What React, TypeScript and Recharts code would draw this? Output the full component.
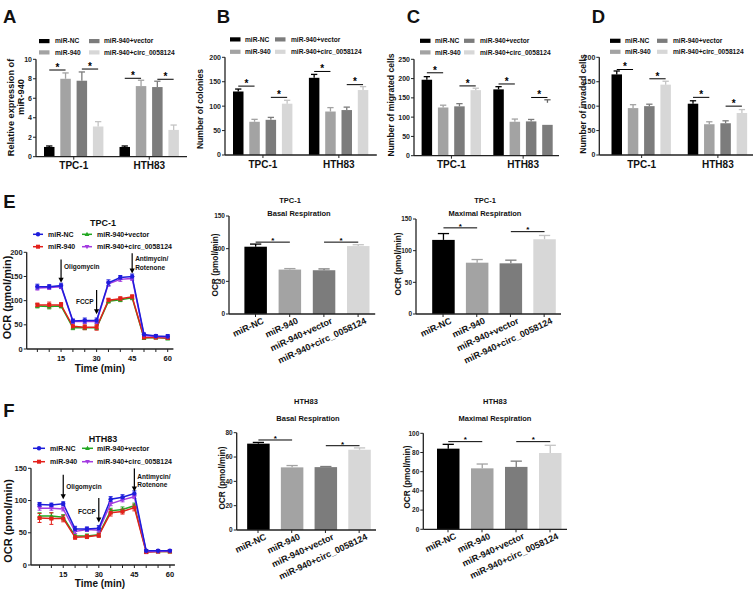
import React from "react";
import { BarChart, Bar, XAxis, YAxis, ComposedChart, Line, ErrorBar, Scatter } from "recharts";

const FONT = "'Liberation Sans', Arial, Helvetica, sans-serif";

// ---------- categories ----------
const groups = ["miR-NC", "miR-940", "miR-940+vector", "miR-940+circ_0058124"];
const cells = ["TPC-1", "HTH83"];

// ---------- A: relative expression of miR-940 ----------
const relExprMean = [[1.0, 8.0, 7.8, 3.1], [1.0, 7.25, 7.15, 2.75]];
const relExprErr = [[0.1, 0.6, 0.9, 0.5], [0.1, 0.6, 0.6, 0.5]];
const relExprSig = [[8.9, 9.0], [8.05, 7.95]];

// ---------- B: number of colonies ----------
const colonyMean = [[130, 68, 72, 105], [158, 89, 92, 133]];
const colonyErr = [[5, 5, 5, 7], [7, 8, 6, 7]];
const colonySig = [[141, 118], [171, 144]];

// ---------- C: number of migrated cells ----------
const migratedMean = [[197, 125, 128, 170], [172, 88, 89, 80]];
const migratedErr = [[8, 6, 7, 5], [7, 7, 5, 0]];
const migratedSig = [[215, 181], [186, 151]];
const migratedStrayCap = [null, 145];

// ---------- D: number of invaded cells ----------
const invadedMean = [[165, 96, 100, 144], [105, 63, 65, 86]];
const invadedErr = [[7, 7, 4, 7], [6, 5, 5, 7]];
const invadedSig = [[175, 156], [118, 100]];

// ---------- E / F: OCR time course ----------
const times = [5, 10, 15, 20, 25, 30, 35, 40, 45, 50, 55, 60];
const tpcNC = [129, 129, 131, 58, 59, 59, 137, 148, 150, 30, 27, 26];
const tpcNCErr = [5, 4, 5, 4, 5, 5, 6, 4, 5, 3, 3, 4];
const tpc940 = [91, 91, 91, 47, 45, 45, 101, 104, 108, 24, 24, 23];
const tpc940Err = [4, 6, 5, 5, 5, 6, 4, 4, 4, 3, 3, 3];
const tpcVec = [89, 88, 89, 44, 44, 44, 99, 102, 106, 23, 24, 22];
const tpcVecErr = [4, 5, 4, 4, 4, 4, 4, 4, 4, 3, 3, 3];
const tpcCirc = [126, 127, 129, 57, 57, 57, 135, 144, 146, 28, 26, 25];
const tpcCircErr = [4, 4, 4, 4, 4, 4, 5, 4, 4, 3, 3, 3];

const hthNC = [94, 93, 95, 56, 56, 57, 102, 105, 111, 22, 22, 22];
const hthNCErr = [3, 3, 3, 4, 3, 4, 4, 4, 4, 2, 2, 2];
const hth940 = [73, 72, 72, 43, 44, 46, 81, 83, 89, 20, 21, 21];
const hth940Err = [7, 9, 5, 3, 3, 3, 5, 4, 5, 2, 2, 2];
const hthVec = [76, 76, 74, 45, 45, 47, 84, 86, 92, 21, 21, 21];
const hthVecErr = [5, 5, 4, 3, 3, 3, 4, 4, 4, 2, 2, 2];
const hthCirc = [88, 88, 87, 52, 55, 54, 95, 101, 106, 21, 21, 22];
const hthCircErr = [3, 3, 3, 3, 3, 3, 3, 3, 3, 2, 2, 2];

const tpcInjections = [
  { t: 15, tip: 137, top: 185, text: ["Oligomycin"], textAt: [170], side: "right" },
  { t: 30, tip: 72, top: 122, text: ["FCCP"], textAt: [98], side: "left" },
  { t: 45, tip: 156, top: 198, text: ["Antimycin/", "Rotenone"], textAt: [186, 168], side: "right" },
];
const hthInjections = [
  { t: 15, tip: 102, top: 140, text: ["Oligomycin"], textAt: [122], side: "right" },
  { t: 30, tip: 66, top: 104, text: ["FCCP"], textAt: [83], side: "left" },
  { t: 45, tip: 114, top: 150, text: ["Antimycin/", "Rotenone"], textAt: [137, 125], side: "right" },
];

// ---------- Basal / Maximal respiration ----------
const tpcBasalMean = [103, 68, 67, 104];
const tpcBasalErr = [4, 1.5, 2, 2];
const tpcBasalSig = [110, 110];
const tpcMaxMean = [117, 81, 80, 118];
const tpcMaxErr = [10, 5, 5, 6];
const tpcMaxSig = [136, 130];
const hthBasalMean = [71, 51.5, 51.7, 66];
const hthBasalErr = [1, 1.5, 0.5, 1.5];
const hthBasalSig = [74, 69.3];
const hthMaxMean = [84, 63.5, 65, 79.5];
const hthMaxErr = [4.5, 4.5, 6, 8];
const hthMaxSig = [91.3, 91.3];

// ---------- styles ----------
const barFills = ["#000000", "#a3a3a3", "#7c7c7c", "#d7d7d7"];
const lineColors = ["#1d1ddb", "#e3201b", "#22a722", "#a33be0"];
const AX = "#222";

type Plot = { l: number; t: number; r: number; b: number };

function layout(plot: Plot, box: number[], xh: number) {
  const [x0, y0, x1, y1] = box;
  return {
    style: { position: "absolute" as const, left: x0, top: y0 },
    width: x1 - x0,
    height: y1 - y0,
    margin: { top: plot.t - y0, right: x1 - plot.r, bottom: y1 - plot.b - xh, left: 0 },
    yw: plot.l - x0,
  };
}

const yTickStyle = (size: number) => ({ fontSize: size, fontWeight: "bold", fill: AX, fontFamily: FONT });

function Sig({ x1, x2, y, size }: any) {
  return (
    <g>
      <line x1={x1} x2={x2} y1={y} y2={y} stroke="#000" strokeWidth={1} />
      <text x={(x1 + x2) / 2} y={y + 0.8} textAnchor="middle" fontSize={size} fontWeight="bold" fontFamily={FONT} fill="#000">*</text>
    </g>
  );
}

function GroupPanel({ plot, box, domain, ticks, means, errs, sigs, padL, override, stray }: any) {
  const L = layout(plot, box, 16);
  const BAR = 10.5;
  const GAP = 5.8;
  const data = cells.map((c, i) => {
    const row: any = { cell: c, sigA: sigs[i][0], sigB: sigs[i][1], stray: stray ? stray[i] : null };
    for (let k = 0; k < 4; k++) {
      row["s" + k] = means[i][k];
      row["e" + k] = errs[i][k];
    }
    return row;
  });
  const shape = (k: number) => (p: any) => {
    const { x, y, width, height, payload } = p;
    const v = payload["s" + k];
    const ppu = v > 0 ? height / v : 0;
    const base = y + height;
    const cx = x + width / 2;
    let fill = barFills[k];
    if (override && override.cell === payload.cell && override.series === k) fill = override.fill;
    const e = payload["e" + k];
    const capC = k === 0 ? "#000" : fill === "#d7d7d7" ? "#c4c4c4" : fill;
    const cw = width * 0.3;
    return (
      <g>
        <rect x={x} y={y} width={width} height={height} fill={fill} />
        {e > 0 && (
          <g>
            <line x1={cx} x2={cx} y1={y} y2={y - e * ppu} stroke={capC} strokeWidth={1.3} />
            <line x1={cx - cw} x2={cx + cw} y1={y - e * ppu} y2={y - e * ppu} stroke={capC} strokeWidth={1.3} />
          </g>
        )}
        {k === 3 && payload.stray != null && (
          <g>
            <line x1={cx} x2={cx} y1={base - payload.stray * ppu} y2={base - payload.stray * ppu + 3} stroke="#666" strokeWidth={1.3} />
            <line x1={cx - cw} x2={cx + cw} y1={base - payload.stray * ppu} y2={base - payload.stray * ppu} stroke="#666" strokeWidth={1.3} />
          </g>
        )}
        {(k === 0 || k === 2) && (
          <Sig x1={cx} x2={cx + width + GAP} y={base - (k === 0 ? payload.sigA : payload.sigB) * ppu} size={10} />
        )}
      </g>
    );
  };
  const CatTick = (p: any) => (
    <text x={p.x} y={p.y + 7.5} textAnchor="middle" fontSize={10} fontWeight="bold" fontFamily={FONT} fill="#111">
      {p.payload.value}
    </text>
  );
  return (
    <div style={L.style}>
      <BarChart width={L.width} height={L.height} data={data} margin={L.margin} barGap={GAP}>
        <XAxis dataKey="cell" height={16} tick={CatTick} tickSize={3} tickMargin={2} interval={0}
          padding={{ left: padL, right: 0 }}
          axisLine={{ stroke: AX, strokeWidth: 1.3 }} tickLine={{ stroke: AX, strokeWidth: 1 }} />
        <YAxis width={L.yw} domain={domain} ticks={ticks} interval={0} tickSize={3} tickMargin={1}
          tick={yTickStyle(7)} axisLine={{ stroke: AX, strokeWidth: 1.3 }} tickLine={{ stroke: AX, strokeWidth: 1 }} />
        {[0, 1, 2, 3].map((k) => (
          <Bar key={k} dataKey={"s" + k} fill={barFills[k]} barSize={BAR} isAnimationActive={false} shape={shape(k)} />
        ))}
      </BarChart>
    </div>
  );
}

function RespPanel({ plot, box, domain, ticks, mean, err, sig, padL }: any) {
  const L = layout(plot, box, 62);
  const band = (plot.r - plot.l - padL) / 4;
  const data = groups.map((g, i) => ({ g, v: mean[i], e: err[i] }));
  const shape = (p: any) => {
    const { x, y, width, height, payload } = p;
    const idx = groups.indexOf(payload.g);
    const ppu = payload.v > 0 ? height / payload.v : 0;
    const base = y + height;
    const cx = x + width / 2;
    const fill = barFills[idx];
    const capC = idx === 0 ? "#000" : idx === 3 ? "#c4c4c4" : fill;
    const cw = width * 0.25;
    const ty = y - payload.e * ppu;
    return (
      <g>
        <rect x={x} y={y} width={width} height={height} fill={fill} />
        <line x1={cx} x2={cx} y1={y} y2={ty} stroke={capC} strokeWidth={1.3} />
        <line x1={cx - cw} x2={cx + cw} y1={ty} y2={ty} stroke={capC} strokeWidth={1.3} />
        {(idx === 0 || idx === 2) && (
          <Sig x1={cx} x2={cx + band} y={base - sig[idx / 2] * ppu} size={8} />
        )}
      </g>
    );
  };
  const RotTick = (p: any) => (
    <text transform={`translate(${p.x + 9},${p.y + 4}) rotate(-25)`} textAnchor="end" fontSize={9}
      fontWeight="bold" fontFamily={FONT} fill="#111">
      {p.payload.value}
    </text>
  );
  return (
    <div style={L.style}>
      <BarChart width={L.width} height={L.height} data={data} margin={L.margin}>
        <XAxis dataKey="g" height={62} tick={RotTick} tickSize={3} tickMargin={2} interval={0}
          padding={{ left: padL, right: 0 }}
          axisLine={{ stroke: AX, strokeWidth: 1.3 }} tickLine={{ stroke: AX, strokeWidth: 1 }} />
        <YAxis width={L.yw} domain={domain} ticks={ticks} interval={0} tickSize={3} tickMargin={1}
          tick={yTickStyle(6.5)} axisLine={{ stroke: AX, strokeWidth: 1.3 }} tickLine={{ stroke: AX, strokeWidth: 1 }} />
        <Bar dataKey="v" barSize={22.5} isAnimationActive={false} shape={shape} />
      </BarChart>
    </div>
  );
}

const dotFn = (k: number) => (p: any) => {
  const { cx, cy } = p;
  const c = lineColors[k];
  if (cx == null || cy == null) return <g />;
  if (k === 0) return <circle cx={cx} cy={cy} r={2.2} fill={c} />;
  if (k === 1) return <rect x={cx - 2} y={cy - 2} width={4} height={4} fill={c} />;
  if (k === 2) return <path d={`M${cx},${cy - 2.5}L${cx + 2.4},${cy + 1.8}L${cx - 2.4},${cy + 1.8}Z`} fill={c} />;
  return <path d={`M${cx},${cy + 2.5}L${cx + 2.4},${cy - 1.8}L${cx - 2.4},${cy - 1.8}Z`} fill={c} />;
};

function OcrPanel({ plot, box, xDomain, yDomain, yTicks, nc, ncE, m940, m940E, vec, vecE, circ, circE, injections }: any) {
  const L = layout(plot, box, 14);
  const rows = times.map((t, i) => ({
    t, nc: nc[i], ncE: ncE[i], m940: m940[i], m940E: m940E[i], vec: vec[i], vecE: vecE[i], circ: circ[i], circE: circE[i],
  }));
  const ppu = (plot.b - plot.t) / (yDomain[1] - yDomain[0]);
  const arrow = (p: any) => {
    const { cx, cy, payload } = p;
    if (cx == null) return <g />;
    const topY = cy - (payload.top - payload.tip) * ppu;
    return (
      <g>
        <line x1={cx} x2={cx} y1={topY} y2={cy - 4} stroke="#000" strokeWidth={1.2} />
        <path d={`M${cx - 2.6},${cy - 5}L${cx + 2.6},${cy - 5}L${cx},${cy}Z`} fill="#000" />
        {payload.text.map((s: string, j: number) => (
          <text key={j} x={payload.side === "right" ? cx + 3 : cx - 3}
            y={cy - (payload.textAt[j] - payload.tip) * ppu + 2.3}
            textAnchor={payload.side === "right" ? "start" : "end"} fontSize={6.5} fontWeight="bold"
            fontFamily={FONT} fill="#111">{s}</text>
        ))}
      </g>
    );
  };
  const TimeTick = (p: any) =>
    p.payload.value % 15 === 0 ? (
      <text x={p.x} y={p.y + 7} textAnchor="middle" fontSize={7.5} fontWeight="bold" fontFamily={FONT} fill="#111">
        {p.payload.value}
      </text>
    ) : (
      <g />
    );
  const specs = [
    { key: "vec", k: 2 },
    { key: "m940", k: 1 },
    { key: "circ", k: 3 },
    { key: "nc", k: 0 },
  ];
  return (
    <div style={L.style}>
      <ComposedChart width={L.width} height={L.height} data={rows} margin={L.margin}>
        <XAxis type="number" dataKey="t" domain={xDomain} ticks={times} allowDataOverflow height={14} interval={0}
          tick={TimeTick} tickSize={3} tickMargin={2}
          axisLine={{ stroke: AX, strokeWidth: 1.3 }} tickLine={{ stroke: AX, strokeWidth: 1 }} />
        <YAxis width={L.yw} domain={yDomain} ticks={yTicks} interval={0} tickSize={3} tickMargin={1} allowDataOverflow
          tick={yTickStyle(7.5)} axisLine={{ stroke: AX, strokeWidth: 1.3 }} tickLine={{ stroke: AX, strokeWidth: 1 }} />
        {specs.map((s) => (
          <Line key={s.key} type="linear" dataKey={s.key} stroke={lineColors[s.k]} strokeWidth={1.5}
            dot={dotFn(s.k)} activeDot={false} isAnimationActive={false}>
            <ErrorBar dataKey={s.key + "E"} width={2} stroke={lineColors[s.k]} strokeWidth={1} direction="y" />
          </Line>
        ))}
        <Scatter data={injections} dataKey="tip" shape={arrow} isAnimationActive={false} />
      </ComposedChart>
    </div>
  );
}

// ---------- overlay text helpers ----------
function T({ x, y, size, anchor = "start", rot, children }: any) {
  return (
    <text x={x} y={y} fontSize={size} fontWeight="bold" fontFamily={FONT} textAnchor={anchor} fill="#111"
      transform={rot ? `rotate(${rot} ${x} ${y})` : undefined}>
      {children}
    </text>
  );
}

function BarLegend({ rows, cols }: any) {
  return (
    <g>
      {groups.map((g, i) => {
        const c = cols[Math.floor(i / 2)];
        const ry = rows[i % 2];
        return (
          <g key={g}>
            <rect x={c[0]} y={ry - 2} width={10.5} height={4.2} fill={barFills[i]} />
            <T x={c[1]} y={ry + 2.4} size={6.6}>{g}</T>
          </g>
        );
      })}
    </g>
  );
}

function LineLegend({ rows, cols }: any) {
  return (
    <g>
      {groups.map((g, i) => {
        const c = cols[Math.floor(i / 2)];
        const ry = rows[i % 2];
        const mid = (c[0] + c[1]) / 2;
        return (
          <g key={g}>
            <line x1={c[0]} x2={c[1]} y1={ry} y2={ry} stroke={lineColors[i]} strokeWidth={1.5} />
            {dotFn(i)({ cx: mid, cy: ry })}
            <T x={c[2]} y={ry + 2.5} size={7}>{g}</T>
          </g>
        );
      })}
    </g>
  );
}

export default function App() {
  return (
    <div style={{ position: "absolute", left: 0, top: 0, width: 753, height: 596, overflow: "hidden", background: "#fff" }}>
      <GroupPanel plot={{ l: 36, t: 59.3, r: 187, b: 156.7 }} box={[0, 48, 191, 176]} domain={[0, 10]} ticks={[0, 2, 4, 6, 8, 10]}
        means={relExprMean} errs={relExprErr} sigs={relExprSig} padL={0} />
      <GroupPanel plot={{ l: 225, t: 57.3, r: 376.8, b: 155 }} box={[195, 46, 380, 176]} domain={[0, 200]} ticks={[0, 50, 100, 150, 200]}
        means={colonyMean} errs={colonyErr} sigs={colonySig} padL={0} />
      <GroupPanel plot={{ l: 414, t: 59.3, r: 559, b: 155.7 }} box={[385, 48, 563, 176]} domain={[0, 250]} ticks={[0, 50, 100, 150, 200, 250]}
        means={migratedMean} errs={migratedErr} sigs={migratedSig} padL={1.6} stray={migratedStrayCap}
        override={{ cell: "HTH83", series: 3, fill: barFills[2] }} />
      <GroupPanel plot={{ l: 599.3, t: 57.3, r: 756, b: 155 }} box={[570, 46, 760, 176]} domain={[0, 200]} ticks={[0, 50, 100, 150, 200]}
        means={invadedMean} errs={invadedErr} sigs={invadedSig} padL={4.2} />

      <OcrPanel plot={{ l: 26.7, t: 252.3, r: 173.4, b: 349 }} box={[0, 240, 180, 366]} xDomain={[0.5, 62.4]}
        yDomain={[0, 200]} yTicks={[0, 50, 100, 150, 200]}
        nc={tpcNC} ncE={tpcNCErr} m940={tpc940} m940E={tpc940Err} vec={tpcVec} vecE={tpcVecErr} circ={tpcCirc} circE={tpcCircErr}
        injections={tpcInjections} />
      <OcrPanel plot={{ l: 31, t: 468.3, r: 174.9, b: 565 }} box={[0, 456, 180, 582]} xDomain={[1.4, 62.1]}
        yDomain={[0, 150]} yTicks={[0, 50, 100, 150]}
        nc={hthNC} ncE={hthNCErr} m940={hth940} m940E={hth940Err} vec={hthVec} vecE={hthVecErr} circ={hthCirc} circE={hthCircErr}
        injections={hthInjections} />

      <RespPanel plot={{ l: 229, t: 216, r: 375.2, b: 314 }} box={[205, 205, 380, 380]} domain={[0, 150]} ticks={[0, 50, 100, 150]}
        mean={tpcBasalMean} err={tpcBasalErr} sig={tpcBasalSig} padL={9.4} />
      <RespPanel plot={{ l: 416, t: 219, r: 561, b: 314 }} box={[392, 205, 565, 380]} domain={[0, 150]} ticks={[0, 50, 100, 150]}
        mean={tpcMaxMean} err={tpcMaxErr} sig={tpcMaxSig} padL={10.2} />
      <RespPanel plot={{ l: 236.7, t: 432.7, r: 376, b: 530 }} box={[212, 420, 380, 596]} domain={[0, 80]} ticks={[0, 20, 40, 60, 80]}
        mean={hthBasalMean} err={hthBasalErr} sig={hthBasalSig} padL={4.45} />
      <RespPanel plot={{ l: 423.3, t: 433.3, r: 567, b: 529.3 }} box={[400, 420, 570, 596]} domain={[0, 100]} ticks={[0, 20, 40, 60, 80, 100]}
        mean={hthMaxMean} err={hthMaxErr} sig={hthMaxSig} padL={7.7} />

      <svg width={753} height={596} style={{ position: "absolute", left: 0, top: 0, pointerEvents: "none" }}>
        {/* panel letters */}
        <T x={3} y={22.7} size={18.5}>A</T>
        <T x={216.7} y={23.3} size={18.5}>B</T>
        <T x={406.7} y={23} size={18.5}>C</T>
        <T x={591.7} y={23} size={18.5}>D</T>
        <T x={3.3} y={208.3} size={18.5}>E</T>
        <T x={3.3} y={416.7} size={18.5}>F</T>

        {/* top-row legends */}
        <BarLegend rows={[41, 52.3]} cols={[[39, 55], [89, 104]]} />
        <BarLegend rows={[39.3, 51.7]} cols={[[230, 245], [275, 291]]} />
        <BarLegend rows={[40.7, 52.3]} cols={[[420, 435], [464, 480]]} />
        <BarLegend rows={[40.7, 51.7]} cols={[[610, 625], [657, 673]]} />

        {/* top-row y labels */}
        <T x={14.3} y={107.5} size={9.2} anchor="middle" rot={-90}>Relative expression of</T>
        <T x={23.8} y={97} size={9.2} anchor="middle" rot={-90}>miR-940</T>
        <T x={203} y={109} size={8.6} anchor="middle" rot={-90}>Number of colonies</T>
        <T x={393.8} y={105} size={8.6} anchor="middle" rot={-90}>Number of migrated cells</T>
        <T x={586} y={104} size={8.6} anchor="middle" rot={-90}>Number of invaded cells</T>

        {/* E line chart */}
        <T x={103} y={226} size={9} anchor="middle">TPC-1</T>
        <LineLegend rows={[234.3, 246.7]} cols={[[33, 43, 48], [82, 92, 97]]} />
        <T x={11} y={297.5} size={11} anchor="middle" rot={-90}>OCR (pmol/min)</T>
        <T x={100} y={372} size={10} anchor="middle">Time (min)</T>

        {/* F line chart */}
        <T x={103} y={441.5} size={9} anchor="middle">HTH83</T>
        <LineLegend rows={[448.3, 461.7]} cols={[[33, 45, 50], [82, 93, 97]]} />
        <T x={11.5} y={521} size={11} anchor="middle" rot={-90}>OCR (pmol/min)</T>
        <T x={100} y={587} size={10} anchor="middle">Time (min)</T>

        {/* respiration titles */}
        <T x={290} y={203.4} size={7.5} anchor="middle">TPC-1</T>
        <T x={299} y={216} size={7.5} anchor="middle">Basal Respiration</T>
        <T x={485} y={203.4} size={7.5} anchor="middle">TPC-1</T>
        <T x={485} y={216} size={7.5} anchor="middle">Maximal Respiration</T>
        <T x={306} y={404} size={7.5} anchor="middle">HTH83</T>
        <T x={308} y={421} size={7.5} anchor="middle">Basal Respiration</T>
        <T x={495} y={404} size={7.5} anchor="middle">HTH83</T>
        <T x={495} y={421} size={7.5} anchor="middle">Maximal Respiration</T>

        {/* respiration y labels */}
        <T x={218} y={265} size={8.3} anchor="middle" rot={-90}>OCR (pmol/min)</T>
        <T x={401} y={264} size={8.3} anchor="middle" rot={-90}>OCR (pmol/min)</T>
        <T x={224.7} y={478} size={8.3} anchor="middle" rot={-90}>OCR (pmol/min)</T>
        <T x={409.7} y={477} size={8.3} anchor="middle" rot={-90}>OCR (pmol/min)</T>
      </svg>
    </div>
  );
}
